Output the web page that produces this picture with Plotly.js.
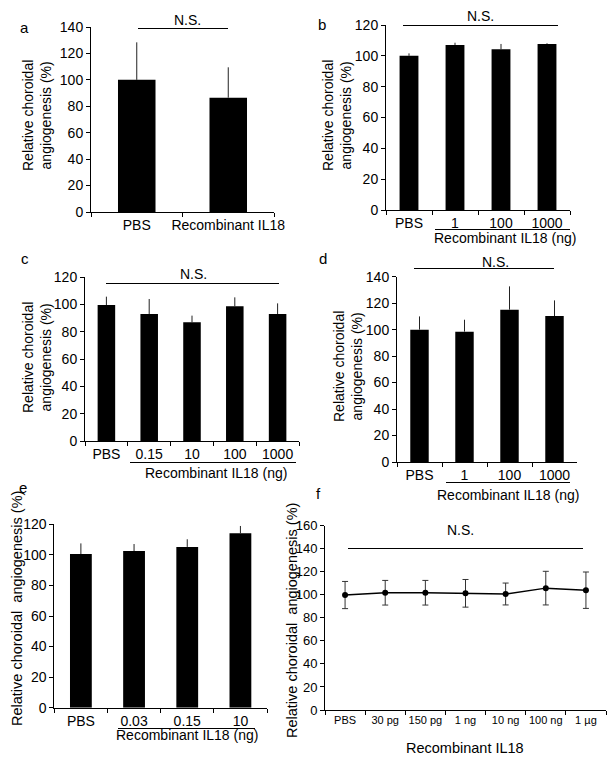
<!DOCTYPE html>
<html>
<head>
<meta charset="utf-8">
<script src="https://cdn.plot.ly/plotly-3.0.1.min.js"></script>
<style>html,body{margin:0;padding:0;background:#fff}#chart{width:612px;height:764px}</style>
</head>
<body>
<div id="chart"></div>
<script>
// ---- Data ----
const aCats = ['PBS', 'Recombinant IL18'];
const aVals = [100, 86.5];
const aErr  = [28.4, 23];

const bCats = ['PBS', '1', '100', '1000'];
const bVals = [100, 107, 104.2, 107.7];
const bErr  = [1.6, 1.5, 3.5, 0.5];

const cCats = ['PBS', '0.15', '10', '100', '1000'];
const cVals = [99.7, 93.1, 87, 98.7, 93.1];
const cErr  = [6.1, 11, 4.9, 6.6, 7.8];

const dCats = ['PBS', '1', '100', '1000'];
const dVals = [100, 98.5, 115.1, 110.3];
const dErr  = [10, 9, 17.6, 11.8];

const eCats = ['PBS', '0.03', '0.15', '10'];
const eVals = [100.5, 102.5, 105.2, 114.1];
const eErr  = [7, 4.6, 5, 4.8];

const fCats = ['PBS', '30 pg', '150 pg', '1 ng', '10 ng', '100 ng', '1 µg'];
const fVals = [99.8, 101.8, 101.8, 101.3, 100.7, 105.8, 104];
const fErr  = [11.8, 10.7, 10.7, 12, 9.5, 14.6, 15.8];

const yTitle2 = 'Relative choroidal<br>angiogenesis (%)';
const yTitle1 = 'Relative choroidal  angiogenesis (%)';
const groupLabel = 'Recombinant IL18 (ng)';

// ---- helpers ----
const W = 612, H = 764;
const FONT = 'Liberation Sans, Arial, sans-serif';
const px = v => v / W;
const py = v => 1 - v / H;

function barTrace(cats, vals, errs, ax) {
  return {
    type: 'bar', x: cats, y: vals, xaxis: 'x' + ax, yaxis: 'y' + ax,
    width: 0.41, marker: {color: '#000', line: {width: 0}},
    error_y: {type: 'data', symmetric: false, array: errs,
              arrayminus: errs.map(() => 0), color: '#222', thickness: 1, width: 0},
    hoverinfo: 'x+y'
  };
}

const traces = [
  barTrace(aCats, aVals, aErr, ''),
  barTrace(bCats, bVals, bErr, '2'),
  barTrace(cCats, cVals, cErr, '3'),
  barTrace(dCats, dVals, dErr, '4'),
  barTrace(eCats, eVals, eErr, '5'),
  {
    type: 'scatter', mode: 'lines+markers', x: fCats, y: fVals,
    xaxis: 'x6', yaxis: 'y6',
    line: {color: '#000', width: 1.5},
    marker: {color: '#000', size: 6},
    error_y: {type: 'data', array: fErr, color: '#333', thickness: 1, width: 3}
  }
];

function xAx(x0, x1, anchor, n, fs) {
  return {
    domain: [px(x0), px(x1)], anchor: anchor, type: 'category',
    range: [-0.5, n - 0.5], tickson: 'boundaries', ticks: 'outside', ticklen: 4,
    tickangle: 0, tickcolor: '#000', showline: true, linecolor: '#000', linewidth: 1,
    showgrid: false, zeroline: false, fixedrange: true,
    tickfont: {family: FONT, size: fs || 14, color: '#000'}
  };
}
function yAx(yBottom, yTop, anchor, max, fs) {
  return {
    domain: [py(yBottom), py(yTop)], anchor: anchor, range: [0, max], dtick: 20,
    ticks: 'outside', ticklen: 4, tickcolor: '#000', showline: true,
    linecolor: '#000', linewidth: 1, showgrid: false, zeroline: false,
    fixedrange: true, tickfont: {family: FONT, size: fs || 14, color: '#000'}
  };
}

function txt(x, y, text, size, extra) {
  return Object.assign({
    xref: 'paper', yref: 'paper', x: px(x), y: py(y), text: text, showarrow: false,
    xanchor: 'center', yanchor: 'middle',
    font: {family: FONT, size: size || 14, color: '#000'}
  }, extra || {});
}
function hline(x0, x1, y, w) {
  return {type: 'line', xref: 'paper', yref: 'paper',
          x0: px(x0), x1: px(x1), y0: py(y + 0.5), y1: py(y + 0.5),
          line: {color: '#000', width: w || 1}};
}

const annotations = [
  // panel letters
  txt(24, 28, 'a', 15), txt(322, 25, 'b', 15), txt(25, 258, 'c', 15),
  txt(323, 258, 'd', 15), txt(23, 487, 'e', 15), txt(318, 493, 'f', 15),
  // N.S.
  txt(187, 20, 'N.S.'), txt(480, 16, 'N.S.'), txt(193, 274, 'N.S.'),
  txt(495, 262, 'N.S.'), txt(460, 530, 'N.S.'),
  // y titles
  txt(37, 116, yTitle2, 14, {textangle: -90}),
  txt(337, 116, yTitle2, 14, {textangle: -90}),
  txt(37, 358, yTitle2, 14, {textangle: -90}),
  txt(348, 367, yTitle2, 14, {textangle: -90}),
  txt(17, 609, yTitle1, 14.5, {textangle: -90}),
  txt(292, 621, yTitle1, 14.5, {textangle: -90}),
  // group labels
  txt(505, 238, groupLabel), txt(216, 473, groupLabel),
  txt(508, 495, groupLabel), txt(187, 735, groupLabel),
  txt(465, 748, 'Recombinant IL18', 14.5)
];

const shapes = [
  // N.S. lines
  hline(138, 228, 28), hline(403, 558, 25), hline(106, 279, 283),
  hline(414, 554, 268), hline(348, 583, 548),
  // group underlines
  hline(435, 570, 229), hline(130, 296, 462), hline(446, 570, 482), hline(118, 255, 728)
];

const layout = {
  width: W, height: H, margin: {l: 0, r: 0, t: 0, b: 0},
  paper_bgcolor: '#fff', plot_bgcolor: '#fff', showlegend: false,
  font: {family: FONT, color: '#000'},
  xaxis:  xAx(91, 274, 'y', aCats.length),
  yaxis:  yAx(212, 27, 'x', 140),
  xaxis2: xAx(386, 570, 'y2', bCats.length),
  yaxis2: yAx(210, 25, 'x2', 120),
  xaxis3: xAx(85, 299, 'y3', cCats.length),
  yaxis3: yAx(441, 277.3, 'x3', 120),
  xaxis4: xAx(397, 577, 'y4', dCats.length),
  yaxis4: yAx(462, 276.7, 'x4', 140),
  xaxis5: xAx(54.3, 267, 'y5', eCats.length),
  yaxis5: yAx(707.7, 524.3, 'x5', 120),
  xaxis6: xAx(325, 606, 'y6', fCats.length, 11),
  yaxis6: yAx(710, 525.7, 'x6', 160, 13),
  annotations: annotations, shapes: shapes
};

Plotly.newPlot('chart', traces, layout, {displayModeBar: false, staticPlot: true});
</script>
</body>
</html>
